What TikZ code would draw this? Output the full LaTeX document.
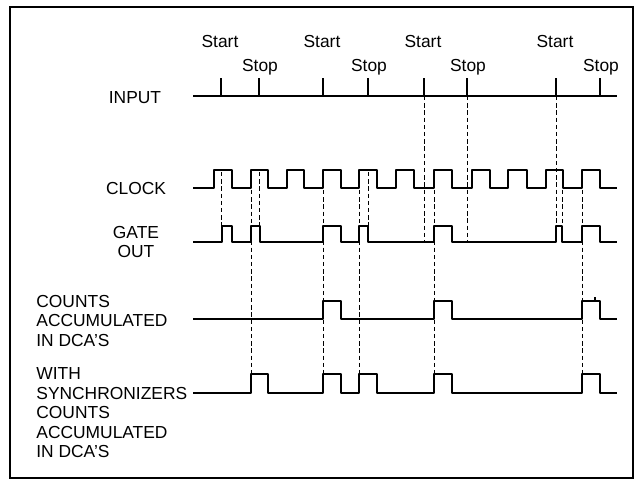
\documentclass[tikz,border=0pt]{standalone}
\usepackage{fontspec}
\setmainfont{Liberation Sans}
\begin{document}
\begin{tikzpicture}[x=0.5pt, y=-0.5pt,
	    every node/.style={inner sep=0pt, font=\fontsize{8.7}{9.75}\selectfont},
	    wave/.style={line width=1.1pt, line join=round},
	    guide/.style={line width=0.5pt, dash pattern=on 2.2pt off 1.4pt}]
	    
	    \useasboundingbox (0,0) rectangle (644,486);
	    \draw [line width=1.1pt] (10,7) rectangle (633,478);
	    
	    % signal names
	    \node (input) at (135,98) {INPUT};
	    \node (clock) at (136,189) {CLOCK};
	    \node [align=center] (gate) at (136,242) {GATE\\OUT};
	    \node [anchor=west, align=left] (counts) at (36,321) {COUNTS\\ACCUMULATED\\IN DCA'S};
	    \node [anchor=west, align=left] (sync) at (36,413) {WITH\\SYNCHRONIZERS\\COUNTS\\ACCUMULATED\\IN DCA'S};
	    
	    % input with start/stop marks
	    \draw [wave] (193,96) -- (617,96);
	    \foreach \x [count=\i] in {221,323,424,556} {
	        \draw [wave] (\x,96) -- (\x,78);
	        \node (start\i) at (\x-1,42) {Start};
	    }
	    \foreach \x [count=\i] in {259,368,467,600} {
	        \draw [wave] (\x,96) -- (\x,78);
	        \node (stop\i) at (\x+1,67) {Stop};
	    }
	    
	    % clock
	    \draw [wave] (193,188) foreach \a/\b in {214/232,251/268,287/304,323/341,359/377,396/414,434/452,472/490,508/527,546/563,582/600}
	        { -- (\a,188) -- (\a,170) -- (\b,170) -- (\b,188) } -- (617,188);
	    % gate out
	    \draw [wave] (193,242) foreach \a/\b in {222/232,251/260,323/341,359/368,434/452,556/562,582/600}
	        { -- (\a,242) -- (\a,226) -- (\b,226) -- (\b,242) } -- (617,242);
	    % counts
	    \draw [wave] (193,319) foreach \a/\b in {323/341,434/452,582/600}
	        { -- (\a,319) -- (\a,301) -- (\b,301) -- (\b,319) } -- (617,319);
	    \draw [wave] (595,301) -- (595,297);
	    % with synchronizers
	    \draw [wave] (193,393) foreach \a/\b in {251/268,323/341,359/377,434/452,582/600}
	        { -- (\a,393) -- (\a,374) -- (\b,374) -- (\b,393) } -- (617,393);
	    
	    % timing guides
	    \foreach \x/\ya/\yb in {221.5/172/226, 251/190/374, 259.5/172/226, 323/190/374, 359/190/374, 368/172/226,
	        424/96/242, 434/190/374, 467/96/242, 556/96/226, 562/190/226, 582/190/374}
	        \draw [guide] (\x,\ya) -- (\x,\yb);
	\end{tikzpicture}
\end{document}
